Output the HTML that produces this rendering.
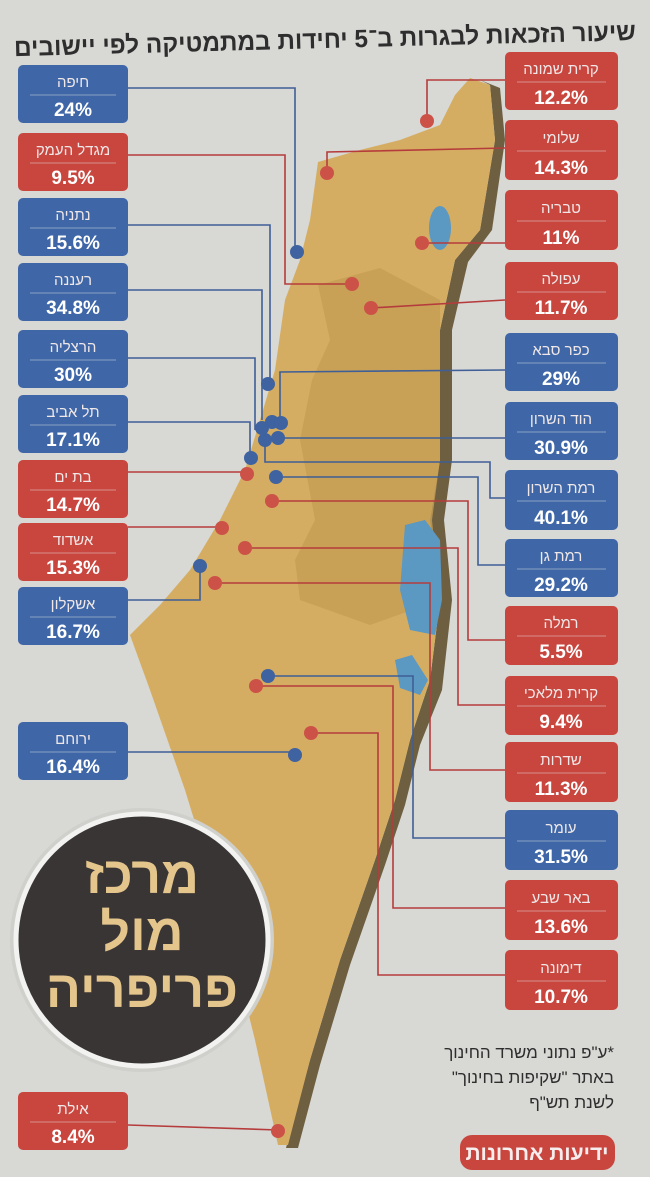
<!DOCTYPE html>
<html><head><meta charset="utf-8"><style>
html,body{margin:0;padding:0;background:#d8d8d5;}
svg{display:block;font-family:"Liberation Sans","Noto Sans CJK SC",sans-serif;}
</style></head><body>
<svg width="650" height="1177" viewBox="0 0 650 1177" xmlns="http://www.w3.org/2000/svg">
<rect width="650" height="1177" fill="#d8d8d5"/>
<text x="325" y="48" text-anchor="middle" font-size="25" font-weight="bold" fill="#2e2e2e" direction="rtl" textLength="622" lengthAdjust="spacingAndGlyphs" transform="rotate(-1.5 325 42)">שיעור הזכאות לבגרות ב־5 יחידות במתמטיקה לפי יישובים</text>

<polygon points="480,80 500,88 505,140 492,230 468,262 452,330 452,460 444,520 452,600 442,690 420,745 405,805 385,865 350,965 320,1065 298,1148 286,1148 310,1060 340,960 375,860 395,800 410,740 430,680 440,600 430,520 440,460 440,330 455,260 480,230 495,140 490,85" fill="#6e5f40"/>
<polygon points="318,162 360,150 400,140 440,125 455,95 470,78 490,85 495,140 480,230 455,260 440,330 440,460 430,520 440,600 430,680 410,740 395,800 375,860 340,960 310,1060 288,1145 278,1145 255,1040 225,920 185,790 150,690 130,635 160,605 190,570 220,520 245,470 260,420 275,370 285,300 300,260 310,220" fill="#d5ad62"/>
<polygon points="318,285 380,268 440,300 440,460 432,520 440,600 370,625 300,600 295,560 315,520 300,440 312,380 330,340" fill="#c49d55" opacity="0.8"/>
<ellipse cx="440" cy="228" rx="11" ry="22" fill="#5b98c2"/>
<polygon points="405,525 425,520 440,540 442,600 435,635 410,630 400,590" fill="#5b98c2"/>
<polygon points="395,660 412,655 428,680 420,695 400,688" fill="#5b98c2"/>

<g fill="none" stroke-width="1.6">
<polyline points="128,88 295,88 295,252" stroke="#3f5f96"/>
<polyline points="128,155 285,155 285,284 352,284" stroke="#b53c3c"/>
<polyline points="128,225 270,225 270,384" stroke="#3f5f96"/>
<polyline points="128,290 262,290 262,420" stroke="#3f5f96"/>
<polyline points="128,358 255,358 255,430" stroke="#3f5f96"/>
<polyline points="128,422 250,422 250,458" stroke="#3f5f96"/>
<polyline points="128,472 247,472" stroke="#b53c3c"/>
<polyline points="128,527 222,527" stroke="#b53c3c"/>
<polyline points="128,600 200,600 200,566" stroke="#3f5f96"/>
<polyline points="128,752 295,752" stroke="#3f5f96"/>
<polyline points="128,1125 278,1130" stroke="#b53c3c"/>
<polyline points="505,80 427,80 427,120" stroke="#b53c3c"/>
<polyline points="505,148 327,152 327,172" stroke="#b53c3c"/>
<polyline points="505,243 422,243" stroke="#b53c3c"/>
<polyline points="505,300 371,308" stroke="#b53c3c"/>
<polyline points="505,370 280,372 280,420" stroke="#3f5f96"/>
<polyline points="505,438 278,438" stroke="#3f5f96"/>
<polyline points="505,498 490,498 490,462 265,462 265,445" stroke="#3f5f96"/>
<polyline points="505,565 478,565 478,477 276,477" stroke="#3f5f96"/>
<polyline points="505,640 468,640 468,501 272,501" stroke="#b53c3c"/>
<polyline points="505,705 458,705 458,548 245,548" stroke="#b53c3c"/>
<polyline points="505,770 430,770 430,583 215,583" stroke="#b53c3c"/>
<polyline points="505,838 413,838 413,676 268,676" stroke="#3f5f96"/>
<polyline points="505,908 393,908 393,686 256,686" stroke="#b53c3c"/>
<polyline points="505,975 378,975 378,733 311,733" stroke="#b53c3c"/>
</g>
<g fill="#3f62a0">
<circle cx="297" cy="252" r="7"/><circle cx="268" cy="384" r="7"/>
<circle cx="262" cy="428" r="7"/><circle cx="272" cy="422" r="7"/><circle cx="281" cy="423" r="7"/>
<circle cx="265" cy="440" r="7"/><circle cx="278" cy="438" r="7"/><circle cx="251" cy="458" r="7"/>
<circle cx="276" cy="477" r="7"/><circle cx="200" cy="566" r="7"/><circle cx="268" cy="676" r="7"/><circle cx="295" cy="755" r="7"/>
</g>
<g fill="#cc5248">
<circle cx="427" cy="121" r="7"/><circle cx="327" cy="173" r="7"/><circle cx="422" cy="243" r="7"/>
<circle cx="352" cy="284" r="7"/><circle cx="371" cy="308" r="7"/><circle cx="247" cy="474" r="7"/>
<circle cx="272" cy="501" r="7"/><circle cx="222" cy="528" r="7"/><circle cx="245" cy="548" r="7"/>
<circle cx="215" cy="583" r="7"/><circle cx="256" cy="686" r="7"/><circle cx="311" cy="733" r="7"/><circle cx="278" cy="1131" r="7"/>
</g>

<g font-size="15" direction="rtl">
<g fill="#3f67a8"><rect x="18" y="65" width="110" height="58" rx="5"/><rect x="18" y="198" width="110" height="58" rx="5"/><rect x="18" y="263" width="110" height="58" rx="5"/><rect x="18" y="330" width="110" height="58" rx="5"/><rect x="18" y="395" width="110" height="58" rx="5"/><rect x="18" y="587" width="110" height="58" rx="5"/><rect x="18" y="722" width="110" height="58" rx="5"/>
<rect x="505" y="333" width="113" height="58" rx="5"/><rect x="505" y="402" width="113" height="58" rx="5"/><rect x="505" y="470" width="113" height="60" rx="5"/><rect x="505" y="539" width="113" height="58" rx="5"/><rect x="505" y="810" width="113" height="60" rx="5"/></g>
<g fill="#c9463f"><rect x="18" y="133" width="110" height="58" rx="5"/><rect x="18" y="460" width="110" height="58" rx="5"/><rect x="18" y="523" width="110" height="58" rx="5"/><rect x="18" y="1092" width="110" height="58" rx="5"/>
<rect x="505" y="52" width="113" height="58" rx="5"/><rect x="505" y="120" width="113" height="60" rx="5"/><rect x="505" y="190" width="113" height="60" rx="5"/><rect x="505" y="262" width="113" height="58" rx="5"/><rect x="505" y="606" width="113" height="59" rx="5"/><rect x="505" y="676" width="113" height="59" rx="5"/><rect x="505" y="742" width="113" height="60" rx="5"/><rect x="505" y="880" width="113" height="60" rx="5"/><rect x="505" y="950" width="113" height="60" rx="5"/></g>
<g stroke="#e8e8e8" stroke-width="0.8" opacity="0.6">
<line x1="30" x2="116" y1="95" y2="95"/><line x1="30" x2="116" y1="163" y2="163"/><line x1="30" x2="116" y1="228" y2="228"/><line x1="30" x2="116" y1="293" y2="293"/><line x1="30" x2="116" y1="360" y2="360"/><line x1="30" x2="116" y1="425" y2="425"/><line x1="30" x2="116" y1="490" y2="490"/><line x1="30" x2="116" y1="553" y2="553"/><line x1="30" x2="116" y1="617" y2="617"/><line x1="30" x2="116" y1="752" y2="752"/><line x1="30" x2="116" y1="1122" y2="1122"/>
<line x1="517" x2="606" y1="82" y2="82"/><line x1="517" x2="606" y1="151" y2="151"/><line x1="517" x2="606" y1="221" y2="221"/><line x1="517" x2="606" y1="292" y2="292"/><line x1="517" x2="606" y1="363" y2="363"/><line x1="517" x2="606" y1="432" y2="432"/><line x1="517" x2="606" y1="501" y2="501"/><line x1="517" x2="606" y1="569" y2="569"/><line x1="517" x2="606" y1="636" y2="636"/><line x1="517" x2="606" y1="706" y2="706"/><line x1="517" x2="606" y1="773" y2="773"/><line x1="517" x2="606" y1="841" y2="841"/><line x1="517" x2="606" y1="911" y2="911"/><line x1="517" x2="606" y1="981" y2="981"/>
</g>
<g fill="#f0e8e8" text-anchor="middle">
<text x="73" y="87">חיפה</text><text x="73" y="155">מגדל העמק</text><text x="73" y="220">נתניה</text><text x="73" y="285">רעננה</text><text x="73" y="352">הרצליה</text><text x="73" y="417">תל אביב</text><text x="73" y="482">בת ים</text><text x="73" y="545">אשדוד</text><text x="73" y="609">אשקלון</text><text x="73" y="744">ירוחם</text><text x="73" y="1114">אילת</text>
<text x="561" y="74">קרית שמונה</text><text x="561" y="143">שלומי</text><text x="561" y="213">טבריה</text><text x="561" y="284">עפולה</text><text x="561" y="355">כפר סבא</text><text x="561" y="424">הוד השרון</text><text x="561" y="493">רמת השרון</text><text x="561" y="561">רמת גן</text><text x="561" y="628">רמלה</text><text x="561" y="698">קרית מלאכי</text><text x="561" y="765">שדרות</text><text x="561" y="833">עומר</text><text x="561" y="903">באר שבע</text><text x="561" y="973">דימונה</text>
</g>
<g fill="#ffffff" text-anchor="middle" font-size="19" font-weight="bold" direction="ltr">
<text x="73" y="116">24%</text><text x="73" y="184">9.5%</text><text x="73" y="249">15.6%</text><text x="73" y="314">34.8%</text><text x="73" y="381">30%</text><text x="73" y="446">17.1%</text><text x="73" y="511">14.7%</text><text x="73" y="574">15.3%</text><text x="73" y="638">16.7%</text><text x="73" y="773">16.4%</text><text x="73" y="1143">8.4%</text>
<text x="561" y="104">12.2%</text><text x="561" y="174">14.3%</text><text x="561" y="244">11%</text><text x="561" y="314">11.7%</text><text x="561" y="385">29%</text><text x="561" y="454">30.9%</text><text x="561" y="524">40.1%</text><text x="561" y="591">29.2%</text><text x="561" y="658">5.5%</text><text x="561" y="728">9.4%</text><text x="561" y="795">11.3%</text><text x="561" y="863">31.5%</text><text x="561" y="933">13.6%</text><text x="561" y="1003">10.7%</text>
</g>
</g>

<circle cx="142" cy="940" r="132" fill="#cfcfcc"/>
<circle cx="142" cy="940" r="126" fill="#3a3535" stroke="#f2f2f0" stroke-width="5"/>
<g fill="#e4c68d" font-size="52" font-weight="bold" text-anchor="middle" direction="rtl">
<text x="142" y="893">מרכז</text><text x="142" y="950">מול</text><text x="142" y="1007">פריפריה</text>
</g>

<g fill="#2e2e2e" font-size="17" text-anchor="start" direction="rtl">
<text x="614" y="1058">*ע"פ נתוני משרד החינוך</text>
<text x="614" y="1083">באתר "שקיפות בחינוך"</text>
<text x="614" y="1108">לשנת תש"ף</text>
</g>
<rect x="460" y="1135" width="155" height="35" rx="12" fill="#c9463f"/>
<text x="537" y="1160" text-anchor="middle" font-size="21" font-weight="bold" fill="#f6eeee" direction="rtl">ידיעות אחרונות</text>
</svg>
</body></html>
